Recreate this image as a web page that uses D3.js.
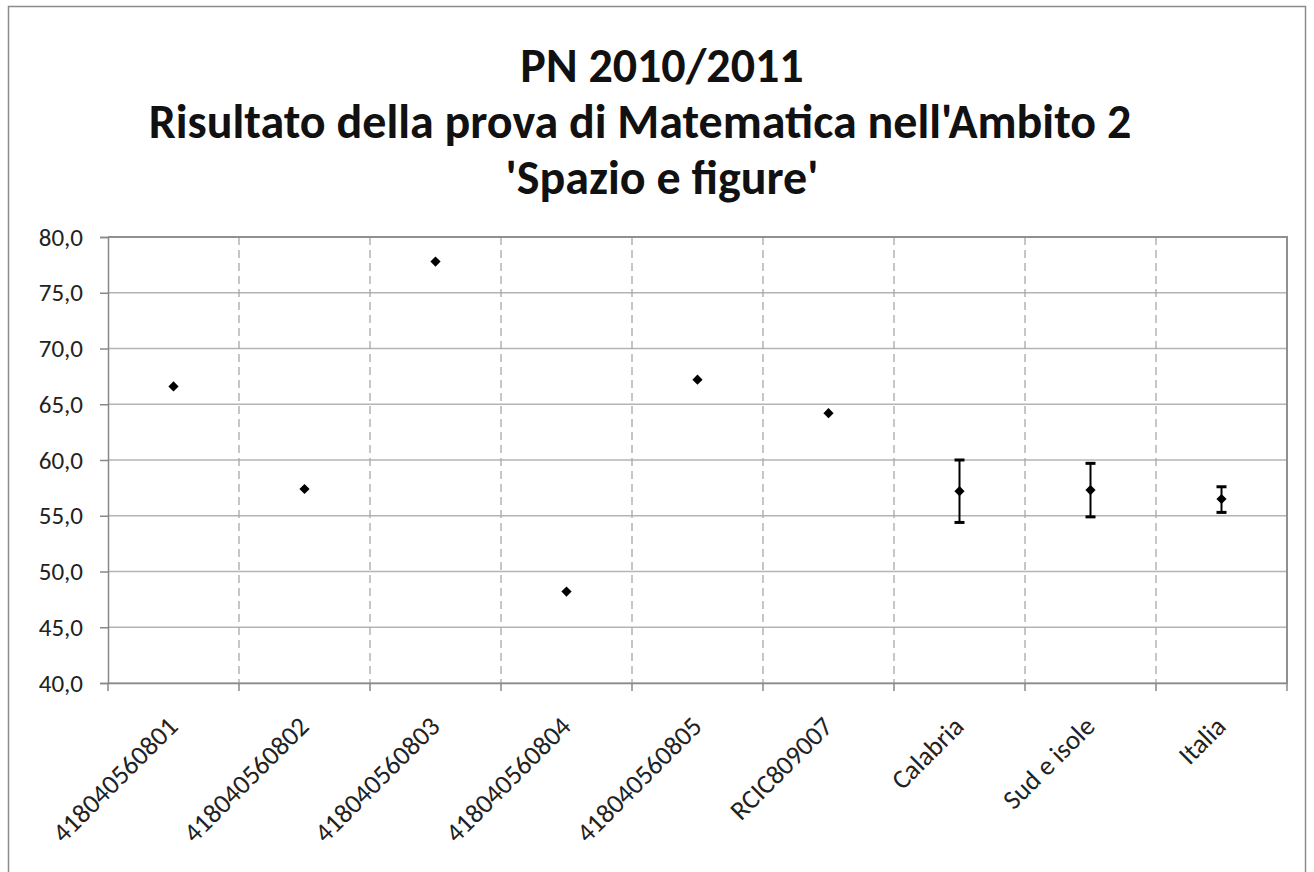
<!DOCTYPE html>
<meta charset="utf-8">
<style>
body { margin: 0; background: white; }
svg { font-family: Carlito, Calibri, "Open Sans", sans-serif; }
.grid line { stroke: #b4b4b4; stroke-width: 1.5; }
.vgrid line { stroke: #a8a8a8; stroke-width: 1.3; stroke-dasharray: 8,5; }
.axis path, .axis line { stroke: #888; stroke-width: 1.5; }
.axis text { fill: #222; font-family: Carlito, Calibri, "Open Sans", sans-serif; }
</style>
<script src="https://d3js.org/d3.v7.min.js"></script>
<body>
<script>

// categories and values
var categories = ["418040560801", "418040560802", "418040560803", "418040560804",
  "418040560805", "RCIC809007", "Calabria", "Sud e isole", "Italia"];
var values = [66.6, 57.4, 77.8, 48.2, 67.2, 64.2, 57.2, 57.3, 56.5];
// error bar bounds (null where no bar)
var lower = [null, null, null, null, null, null, 54.4, 54.9, 55.3];
var upper = [null, null, null, null, null, null, 60.0, 59.7, 57.6];
var yTicks = [40, 45, 50, 55, 60, 65, 70, 75, 80];
var titleLines = ["PN 2010/2011", "Risultato della prova di Matematica nell'Ambito 2", "'Spazio e figure'"];

var W = 1314, H = 872;
var margin = {top: 237, right: 27, bottom: 189, left: 108},
    width = W - margin.left - margin.right,
    height = H - margin.top - margin.bottom;

var svg = d3.select("body").append("svg")
    .attr("width", W)
    .attr("height", H);

// outer border
svg.append("rect")
    .attr("x", 8.5).attr("y", 6.5)
    .attr("width", 1297).attr("height", 880)
    .attr("fill", "none")
    .attr("stroke", "#8c8c8c")
    .attr("stroke-width", 1.5);

// title
svg.append("g").selectAll("text")
    .data(titleLines)
  .enter().append("text")
    .attr("x", function(d, i) { return i === 1 ? 640 : 662; })
    .attr("y", function(d, i) { return 82 + i * 56; })
    .attr("text-anchor", "middle")
    .attr("font-size", "48px")
    .attr("font-weight", "bold")
    .attr("fill", "#111")
    .text(function(d) { return d; });

var g = svg.append("g")
    .attr("transform", "translate(" + margin.left + "," + margin.top + ")");

var x = d3.scaleBand()
    .domain(categories)
    .range([0, width]);

var y = d3.scaleLinear()
    .domain([40, 80])
    .range([height, 0]);

// horizontal gridlines
g.append("g")
    .attr("class", "grid")
  .selectAll("line")
    .data(yTicks)
  .enter().append("line")
    .attr("x1", 0).attr("x2", width)
    .attr("y1", function(d) { return y(d); })
    .attr("y2", function(d) { return y(d); });

// vertical dashed gridlines between categories
g.append("g")
    .attr("class", "vgrid")
  .selectAll("line")
    .data(categories.slice(1))
  .enter().append("line")
    .attr("x1", function(d) { return x(d); })
    .attr("x2", function(d) { return x(d); })
    .attr("y1", 0).attr("y2", height);

// plot border (top and right)
g.append("path")
    .attr("d", "M0,0H" + width + "V" + height)
    .attr("fill", "none")
    .attr("stroke", "#909090")
    .attr("stroke-width", 2);

// y axis
var yAxis = g.append("g")
    .attr("class", "axis")
    .call(d3.axisLeft(y)
      .tickValues(yTicks)
      .tickSize(8)
      .tickPadding(17)
      .tickFormat(function(d) { return d3.format(".1f")(d).replace(".", ","); }));
yAxis.attr("font-family", null);
yAxis.selectAll("text").attr("font-size", "25px");
yAxis.select(".domain").attr("stroke-width", 2);

// x axis: ticks at category boundaries
var xAxis = g.append("g")
    .attr("class", "axis")
    .attr("transform", "translate(0," + height + ")")
    .call(d3.axisBottom(x).tickSize(0).tickFormat(""));
xAxis.attr("font-family", null);
xAxis.select(".domain").attr("stroke-width", 2);
xAxis.selectAll(".bound")
    .data(categories.concat(["end"]))
  .enter().append("line")
    .attr("class", "bound")
    .attr("x1", function(d, i) { return i * x.bandwidth(); })
    .attr("x2", function(d, i) { return i * x.bandwidth(); })
    .attr("y1", 0).attr("y2", 8);

// rotated category labels
xAxis.selectAll(".lbl")
    .data(categories)
  .enter().append("text")
    .attr("class", "lbl")
    .attr("text-anchor", "end")
    .attr("font-size", "27px")
    .attr("fill", "#222")
    .attr("transform", function(d) {
      return "translate(" + (x(d) + x.bandwidth() / 2 + 6) + ",45) rotate(-45)";
    })
    .text(function(d) { return d; });

// error bars
var eb = g.append("g").selectAll("g")
    .data(categories.map(function(c, i) { return {c: c, lo: lower[i], hi: upper[i]}; })
      .filter(function(d) { return d.lo !== null; }))
  .enter().append("g");
eb.append("line")
    .attr("x1", function(d) { return x(d.c) + x.bandwidth() / 2; })
    .attr("x2", function(d) { return x(d.c) + x.bandwidth() / 2; })
    .attr("y1", function(d) { return y(d.lo); })
    .attr("y2", function(d) { return y(d.hi); })
    .attr("stroke", "#000").attr("stroke-width", 2);
eb.selectAll(".cap")
    .data(function(d) { return [{c: d.c, v: d.lo}, {c: d.c, v: d.hi}]; })
  .enter().append("line")
    .attr("x1", function(d) { return x(d.c) + x.bandwidth() / 2 - 5; })
    .attr("x2", function(d) { return x(d.c) + x.bandwidth() / 2 + 5; })
    .attr("y1", function(d) { return y(d.v); })
    .attr("y2", function(d) { return y(d.v); })
    .attr("stroke", "#000").attr("stroke-width", 3);

// diamond markers
g.append("g").selectAll("path")
    .data(values)
  .enter().append("path")
    .attr("d", d3.symbol().type(d3.symbolSquare).size(52))
    .attr("fill", "#000")
    .attr("transform", function(d, i) {
      return "translate(" + (x(categories[i]) + x.bandwidth() / 2) + "," + y(d) + ") rotate(45)";
    });

</script>
